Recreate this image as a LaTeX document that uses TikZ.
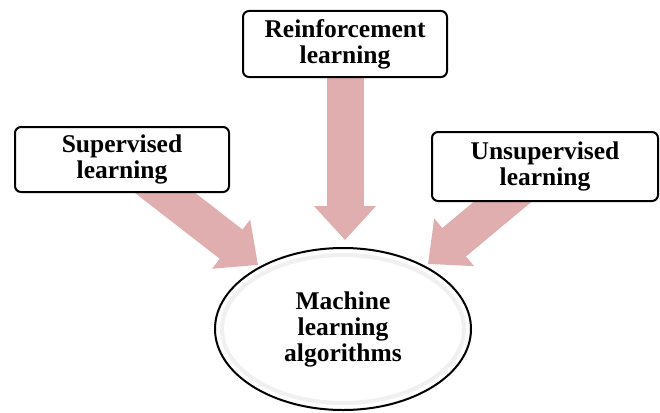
\documentclass[tikz,border=0pt]{standalone}
\usepackage{fontspec}
\setmainfont{Liberation Serif}
\usetikzlibrary{arrows.meta,backgrounds,shapes.geometric}
\definecolor{arrowpink}{RGB}{224,174,174}
\begin{document}
\begin{tikzpicture}[x=1pt,y=-1pt,
  lbl/.style={font=\fontsize{25.5}{26}\selectfont\bfseries, align=center},
  box/.style={lbl, draw=black, line width=2pt, rounded corners=6pt, fill=white, inner sep=0pt},
  oval/.style={lbl, ellipse, draw=black, line width=2pt, fill=white, inner sep=0pt},
  bigarrow/.style={draw=arrowpink, line width=37pt, -{Triangle[width=60pt,length=34pt]}}]
\useasboundingbox (0,0) rectangle (660,412);

\node[box, minimum width=214pt, minimum height=65pt] (sup) at (122,159.5) {Supervised\\learning};
\node[box, minimum width=204pt, minimum height=66pt] (rl) at (345,44) {Reinforcement\\learning};
\node[box, minimum width=226pt, minimum height=69pt] (ul) at (545,166.5) {Unsupervised\\learning};
\node[oval, minimum width=256pt, minimum height=162pt] (mla) at (343,329) {};
\draw[gray!12, line width=4pt] (mla.center) ellipse (121pt and 74pt);
\node[lbl] at (mla.center) {Machine\\learning\\algorithms};

\coordinate (t1) at (258,265);
\coordinate (t2) at (345,240);
\coordinate (t3) at (428,264);

\begin{scope}[on background layer]
\fill[white] (0,0) rectangle (660,412);
\draw[bigarrow] (sup.center) -- (t1);
\draw[bigarrow] (rl.center) -- (t2);
\draw[bigarrow] (ul.center) -- (t3);
\end{scope}
\end{tikzpicture}
\end{document}
